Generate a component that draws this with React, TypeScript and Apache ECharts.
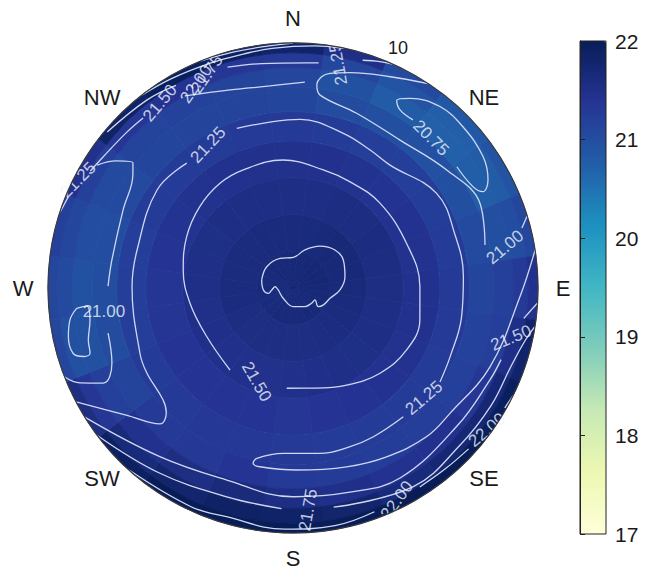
import React, { useEffect, useRef } from 'react';
import * as echarts from 'echarts';

const FONT = '"Liberation Sans", Arial, Helvetica, sans-serif';

// ---- layout constants (pixels) ----
const W = 656;
const H = 569;
const CX = 293;
const CY = 288;
const R = 245;

// ---- axis / legend texts ----
const compassNames = ['N', 'NE', 'E', 'SE', 'S', 'SW', 'W', 'NW'];
const compassAzimuths = [0, 45, 90, 135, 180, 225, 270, 315];
const colorbarMin = 17;
const colorbarMax = 22;
const radialTickLabel = '10';

// matplotlib YlGnBu
const YLGNBU = ['#ffffd9', '#edf8b1', '#c7e9b4', '#7fcdbb', '#41b6c4', '#1d91c0', '#225ea8', '#253494', '#081d58'];

// ---- field: rings (radius 0..10) x sectors (azimuth, deg clockwise from N) ----
const ringEdges = [0, 1.5, 3, 4.5, 6, 7.2, 8.2, 9.0, 9.6, 10];
const sectorAzimuths = [0, 15, 30, 45, 60, 75, 90, 105, 120, 135, 150, 165, 180, 195, 210, 225, 240, 255, 270, 285, 300, 315, 330, 345];
const fieldRing0 = [21.68, 21.68, 21.69, 21.7, 21.7, 21.7, 21.69, 21.68, 21.68, 21.67, 21.67, 21.66, 21.66, 21.65, 21.64, 21.63, 21.63, 21.63, 21.64, 21.65, 21.66, 21.67, 21.68, 21.68];
const fieldRing1 = [21.61, 21.63, 21.66, 21.68, 21.68, 21.67, 21.64, 21.61, 21.59, 21.57, 21.56, 21.55, 21.55, 21.55, 21.55, 21.55, 21.56, 21.58, 21.59, 21.6, 21.6, 21.6, 21.61, 21.61];
const fieldRing2 = [21.53, 21.54, 21.56, 21.56, 21.57, 21.56, 21.55, 21.54, 21.53, 21.52, 21.5, 21.48, 21.47, 21.46, 21.47, 21.47, 21.48, 21.49, 21.5, 21.51, 21.52, 21.53, 21.53, 21.53];
const fieldRing3 = [21.46, 21.45, 21.43, 21.41, 21.42, 21.44, 21.45, 21.45, 21.44, 21.42, 21.39, 21.37, 21.35, 21.37, 21.38, 21.38, 21.37, 21.36, 21.36, 21.38, 21.41, 21.43, 21.45, 21.46];
const fieldRing4 = [21.28, 21.26, 21.23, 21.21, 21.24, 21.27, 21.28, 21.28, 21.27, 21.27, 21.27, 21.27, 21.28, 21.31, 21.32, 21.3, 21.26, 21.23, 21.22, 21.22, 21.25, 21.27, 21.27, 21.28];
const fieldRing5 = [21.12, 21.02, 20.97, 20.96, 20.98, 21.05, 21.12, 21.16, 21.2, 21.22, 21.24, 21.27, 21.3, 21.38, 21.32, 21.28, 21.15, 21.02, 20.99, 21.0, 21.05, 21.12, 21.13, 21.13];
const fieldRing6 = [21.1, 20.95, 20.8, 20.72, 20.75, 20.98, 21.2, 21.23, 21.35, 21.45, 21.42, 21.48, 21.54, 21.62, 21.55, 21.45, 21.2, 20.95, 20.95, 21.0, 21.05, 21.15, 21.17, 21.15];
const fieldRing7 = [21.3, 21.1, 20.9, 20.74, 20.8, 21.0, 21.3, 21.5, 21.7, 21.7, 21.65, 21.78, 21.83, 21.86, 21.78, 21.65, 21.35, 20.95, 21.05, 21.1, 21.2, 21.35, 21.4, 21.35];
const fieldRing8 = [21.8, 21.5, 21.05, 20.85, 20.9, 21.1, 21.45, 21.8, 21.95, 22.0, 22.0, 22.0, 22.0, 22.05, 22.0, 21.9, 21.55, 21.1, 21.1, 21.2, 21.45, 21.85, 21.95, 21.9];
const fieldRows = [fieldRing0, fieldRing1, fieldRing2, fieldRing3, fieldRing4, fieldRing5, fieldRing6, fieldRing7, fieldRing8];

// ---- contour lines: points are [radius, azimuth] ----
const c2175Center = [[1.32, 284.5], [1.38, 309], [1.32, 336.4], [1.25, 0.5], [1.63, 17.5], [2.03, 32.8], [2.31, 47.8], [2.35, 60.9], [2.17, 77.8], [1.92, 92.4], [1.57, 105.5], [1.42, 119], [1.28, 126.4], [1.02, 118.6], [0.98, 129.2], [0.9, 147.2], [0.76, 179.2], [0.58, 223.6], [0.61, 262.4], [0.73, 274], [0.87, 264.7], [1.03, 257.7], [1.21, 266.2], [1.32, 284.5]];
const c2150Ring = [[4.1, 183.6], [4.17, 168.5], [4.53, 151], [4.97, 134.4], [5.28, 118.6], [5.34, 104.2], [5.18, 89.4], [4.98, 68.6], [4.96, 45.7], [4.92, 28.3], [4.98, 14.4], [5.24, 355.5], [5.23, 337.2], [5.21, 325.1], [5.05, 311.1], [4.82, 295.7], [4.54, 279.3], [4.25, 261.6], [4.04, 240.5], [4.22, 217.5]];
const c2125West = [[10, 242.3], [8.56, 232.7], [7.76, 224.4], [7.25, 225.5], [7.0, 229.3], [6.9, 240], [6.79, 247], [6.57, 270.4], [6.55, 283.7], [6.84, 305.8], [6.69, 319.6]];
const c2125North = [[6.91, 340.6], [6.84, 353.1], [6.89, 2.4], [6.64, 18], [6.45, 29.2], [6.39, 38.3], [7.02, 56.6], [6.96, 71.9], [6.97, 86.2], [6.98, 99.7], [7.0, 113.6], [7.12, 122.6]];
const c2125South = [[6.92, 139.4], [6.9, 151.6], [6.88, 160.2], [6.84, 170.7], [6.76, 183.4], [7.11, 192], [7.34, 192.8], [7.42, 190.5], [7.43, 178.8], [7.62, 163.3], [7.88, 151], [8.16, 138], [8.2, 128.6], [8.66, 111.8], [9.27, 92.2], [10, 81.1]];
const c2125WestEdge = [[10, 288], [9.9, 292]];
const c2100TongueA = [[9.44, 302.1], [8.89, 305.7], [8.29, 308], [8.0, 305.2], [7.63, 294.6], [7.48, 278.8], [7.55, 270.6]];
const c2100TongueB = [[7.77, 256.3], [8.0, 247.5], [8.67, 243.4], [9.52, 246], [10, 248.7]];
const c2100WestBlob = [[8.87, 264.6], [8.45, 265], [8.39, 261], [8.62, 255.7], [8.7, 252.2], [9.0, 251.9], [9.36, 253.4], [9.38, 257.8], [9.2, 261.8], [8.87, 264.6]];
const c2100NorthEastA = [[10, 33.5], [9.49, 24.7], [9.09, 14.8], [8.89, 9.8], [8.7, 7.7], [8.34, 6.7], [7.95, 8], [7.59, 20], [7.45, 35.9], [7.91, 52.5], [8.38, 65.6], [8.03, 77.4]];
const c2100NorthEastB = [[9.66, 75.3], [10, 72.9]];
const c2075NorthEast = [[8.43, 35.5], [8.48, 31], [8.76, 28.9], [9.1, 31.7], [9.53, 39], [9.56, 46.5], [9.43, 55.4], [9.1, 61], [8.69, 63.1], [8.43, 60.6], [8.32, 53.5]];
const bandNW1a = [[9.55, 300], [9.42, 304.6], [9.3, 313], [9.25, 318.6]];
const bandNW1b = [[9.0, 330.6], [8.48, 342.4], [8.3, 353.5], [8.42, 3.3]];
const bandNW2a = [[9.9, 310], [9.72, 322], [9.55, 330]];
const bandNW2b = [[9.4, 343.5], [9.25, 352], [9.21, 3.6], [9.25, 6.5]];
const bandNW2c = [[9.72, 17], [9.9, 21], [10, 24]];
const bandNW3 = [[10, 322], [9.88, 330], [9.78, 340], [9.76, 348], [9.82, 355], [9.92, 5], [10, 12]];
const bandNW4 = [[10, 338], [9.93, 346], [9.93, 354], [10, 0]];
const band2150SA = [[10, 238.2], [8.77, 218.3], [8.29, 199], [8.52, 180], [8.65, 164.4], [8.9, 150.6], [8.75, 130], [8.87, 115], [8.98, 109]];
const band2150SB = [[9.5, 97.5], [9.8, 95], [10, 93.5]];
const band2175SA = [[10, 233], [9.31, 215.7], [8.94, 197.6], [9.02, 183]];
const band2175SB = [[9.1, 169.5], [9.48, 148.8], [9.36, 133.2], [9.4, 120.7], [9.45, 110], [9.7, 103], [10, 99]];
const band2200SA = [[10, 222], [9.85, 205], [9.72, 196.2], [9.85, 182], [9.85, 170], [9.72, 160]];
const band2200SB = [[9.63, 147.5], [9.65, 140], [9.72, 132.5]];
const band2200SC = [[9.93, 119.5], [10, 116]];

const contourPieces = [
  c2175Center, c2150Ring, c2125West, c2125North, c2125South, c2125WestEdge,
  c2100TongueA, c2100TongueB, c2100WestBlob, c2100NorthEastA, c2100NorthEastB, c2075NorthEast,
  bandNW1a, bandNW1b, bandNW2a, bandNW2b, bandNW2c, bandNW3, bandNW4,
  band2150SA, band2150SB, band2175SA, band2175SB, band2200SA, band2200SB, band2200SC,
];

// contour labels: [text, radius, azimuth, rotation deg]
const contourLabels: [string, number, number, number][] = [
  ['21.50', 4.1, 201.2, -60],
  ['21.25', 6.98, 130, 40],
  ['21.25', 6.79, 329.3, 47],
  ['21.25', 9.82, 296.7, 45],
  ['21.50', 9.3, 324.3, 50],
  ['22.00', 9.22, 334.6, 55],
  ['21.75', 9.41, 338.1, 55],
  ['21.25', 9.33, 11.4, 100],
  ['20.75', 8.32, 42.6, -45],
  ['21.00', 8.81, 79.1, 40],
  ['21.50', 9.13, 102.9, 22],
  ['22.00', 9.81, 126.2, 40],
  ['21.75', 9.08, 176.1, 80],
  ['22.00', 9.64, 153.9, 54],
  ['21.00', 7.78, 262.8, 0],
];

function buildOption() {
  const fieldData: number[][] = [];
  fieldRows.forEach((row, ri) => {
    row.forEach((v, si) => {
      fieldData.push([(ringEdges[ri] + ringEdges[ri + 1]) / 2, sectorAzimuths[si], v, ri, si]);
    });
  });
  const halfSector = (sectorAzimuths[1] - sectorAzimuths[0]) / 2;

  const fieldSeries = {
    type: 'custom',
    coordinateSystem: 'polar',
    data: fieldData,
    encode: { radius: 0, angle: 1 },
    silent: true,
    z: 1,
    renderItem: (params: any, api: any) => {
      const ri = api.value(3);
      const si = api.value(4);
      const c = api.coord([0, 0]);
      const cx = c[0];
      const cy = c[1];
      const pr = (v: number) => {
        const p = api.coord([v, 0]);
        return Math.hypot(p[0] - cx, p[1] - cy);
      };
      const ang = (az: number) => {
        const p = api.coord([10, az]);
        return Math.atan2(p[1] - cy, p[0] - cx);
      };
      const az = sectorAzimuths[si];
      const s = ang(az - halfSector);
      let e = ang(az + halfSector);
      if (e <= s) e += Math.PI * 2;
      const color = api.visual('color');
      return {
        type: 'sector',
        shape: { cx, cy, r0: pr(ringEdges[ri]), r: pr(ringEdges[ri + 1]), startAngle: s, endAngle: e, clockwise: true },
        style: { fill: color, stroke: color, lineWidth: 0.8 },
      };
    },
  };

  const lineSeries = contourPieces.map((piece) => ({
    type: 'line',
    coordinateSystem: 'polar',
    data: piece,
    smooth: 0.4,
    symbol: 'none',
    silent: true,
    z: 3,
    lineStyle: { color: '#cfd8f2', width: 1.3 },
  }));

  const labelSeries = {
    type: 'scatter',
    coordinateSystem: 'polar',
    symbol: 'circle',
    symbolSize: 1,
    silent: true,
    z: 4,
    itemStyle: { color: 'rgba(0,0,0,0)' },
    label: { show: true, position: 'inside', color: '#f0f4fc', fontSize: 17, fontFamily: FONT },
    data: contourLabels.map(([t, r, az, rot]) => ({ value: [r, az], label: { formatter: t, rotate: rot } })),
  };

  const LABEL_R = 270;
  const graphics: any[] = compassNames.map((name, i) => {
    const a = (compassAzimuths[i] * Math.PI) / 180;
    return {
      type: 'text',
      x: CX + LABEL_R * Math.sin(a),
      y: CY - LABEL_R * Math.cos(a),
      style: { text: name, fontSize: 22, fontFamily: FONT, fill: '#1a1a1a', align: 'center', verticalAlign: 'middle' },
    };
  });
  const ra = (23.6 * Math.PI) / 180;
  graphics.push({
    type: 'text',
    x: CX + 262 * Math.sin(ra),
    y: CY - 262 * Math.cos(ra),
    style: { text: radialTickLabel, fontSize: 18, fontFamily: FONT, fill: '#1a1a1a', align: 'center', verticalAlign: 'middle' },
  });

  return {
    animation: false,
    backgroundColor: '#ffffff',
    polar: { center: [CX, CY], radius: R },
    radiusAxis: { type: 'value', min: 0, max: 10, show: false },
    angleAxis: {
      type: 'value', min: 0, max: 360, interval: 45, startAngle: 90, clockwise: true, z: 10,
      axisLine: { show: true, lineStyle: { color: '#3a3a3a', width: 1.2 } },
      axisTick: { show: false }, axisLabel: { show: false }, splitLine: { show: false },
    },
    grid: { left: 580, top: 41, width: 26, height: 493, show: true, borderColor: '#222', borderWidth: 1, backgroundColor: 'rgba(0,0,0,0)', z: 10 },
    xAxis: { type: 'value', min: 0, max: 1, show: false },
    yAxis: {
      type: 'value', min: colorbarMin, max: colorbarMax, interval: 1, position: 'right', z: 10,
      axisLine: { show: true, lineStyle: { color: '#222' } },
      axisTick: { show: true, length: 5, lineStyle: { color: '#222' } },
      axisLabel: { color: '#1a1a1a', fontSize: 21, fontFamily: FONT, margin: 9 },
      splitLine: { show: false },
    },
    visualMap: {
      type: 'continuous', min: colorbarMin, max: colorbarMax, dimension: 2, seriesIndex: 0,
      show: true, left: 580, top: 41, itemWidth: 26, itemHeight: 493, padding: 0,
      calculable: false, hoverLink: false, inRange: { color: YLGNBU }, z: 5,
    },
    graphic: graphics,
    series: [
      fieldSeries,
      ...lineSeries,
      labelSeries,
      { type: 'line', xAxisIndex: 0, yAxisIndex: 0, data: [], silent: true },
    ],
  };
}

export default function App() {
  const ref = useRef<HTMLDivElement>(null);
  useEffect(() => {
    if (!ref.current) return;
    const chart = echarts.init(ref.current, null, { renderer: 'svg' });
    chart.setOption(buildOption() as any);
    return () => chart.dispose();
  }, []);
  return <div ref={ref} style={{ position: 'absolute', left: 0, top: 0, width: W, height: H, background: '#fff' }} />;
}
